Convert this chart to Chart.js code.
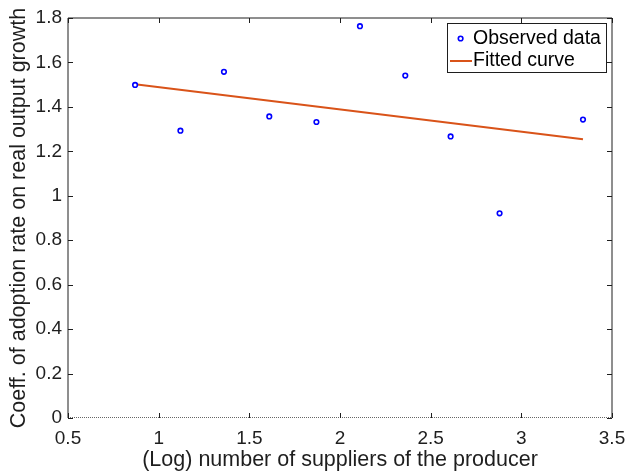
<!DOCTYPE html>
<html>
<head>
<meta charset="utf-8">
<script src="https://cdn.jsdelivr.net/npm/chart.js@4.4.0/dist/chart.umd.min.js"></script>
<style>
  html, body { margin: 0; padding: 0; background: #fff; }
  #wrap { width: 628px; height: 471px; }
</style>
</head>
<body>
<div id="wrap"><canvas id="myChart"></canvas></div>
<script>
// observed points
const supplierLog = [0.87, 1.12, 1.36, 1.61, 1.87, 2.11, 2.36, 2.61, 2.88, 3.34];
const adoptionCoeff = [1.499, 1.293, 1.558, 1.357, 1.332, 1.763, 1.541, 1.267, 0.921, 1.343];
// fitted line ends
const fitX = [0.87, 3.34];
const fitY = [1.502, 1.254];
const xTicks = [0.5, 1, 1.5, 2, 2.5, 3, 3.5];
const yTicks = [0, 0.2, 0.4, 0.6, 0.8, 1, 1.2, 1.4, 1.6, 1.8];

const textColor = '#1e1e1e';
const fontName = "'Liberation Sans', Arial, sans-serif";
const tickSize = 19;
const titleSize = 21.5;
const legendSize = 19.5;

const observed = supplierLog.map((x, i) => ({ x: x, y: adoptionCoeff[i] }));
const fitted = fitX.map((x, i) => ({ x: x, y: fitY[i] }));
const zeroLine = [{ x: xTicks[0], y: 0 }, { x: xTicks[xTicks.length - 1], y: 0 }];

// box round the plot with MATLAB style inward ticks
const boxTicks = {
    id: 'boxTicks',
    afterDatasetsDraw(chart) {
        const ctx = chart.ctx;
        const a = chart.chartArea;
        const xs = chart.scales.x;
        const ys = chart.scales.y;
        const len = 5;
        ctx.save();
        ctx.strokeStyle = textColor;
        ctx.lineWidth = 1;
        ctx.beginPath();
        ctx.moveTo(a.left, a.bottom);
        ctx.lineTo(a.left, a.top);
        ctx.lineTo(a.right, a.top);
        ctx.lineTo(a.right, a.bottom);
        xTicks.forEach(v => {
            const px = Math.round(xs.getPixelForValue(v)) + 0.5;
            ctx.moveTo(px, a.bottom);
            ctx.lineTo(px, a.bottom - len);
            ctx.moveTo(px, a.top);
            ctx.lineTo(px, a.top + len);
        });
        yTicks.forEach(v => {
            const py = Math.round(ys.getPixelForValue(v)) + 0.5;
            ctx.moveTo(a.left, py);
            ctx.lineTo(a.left + len, py);
            ctx.moveTo(a.right, py);
            ctx.lineTo(a.right - len, py);
        });
        ctx.stroke();
        ctx.restore();
    }
};

// legend box in the top right corner
const boxLegend = {
    id: 'boxLegend',
    afterDraw(chart) {
        const ctx = chart.ctx;
        const a = chart.chartArea;
        const w = 159, h = 49;
        const left = a.right - 165;
        const top = a.top + 5;
        ctx.save();
        ctx.fillStyle = '#fff';
        ctx.fillRect(left, top, w, h);
        ctx.strokeStyle = textColor;
        ctx.lineWidth = 1;
        ctx.strokeRect(left + 0.5, top + 0.5, w, h);
        ctx.font = legendSize + 'px ' + fontName;
        ctx.fillStyle = '#000';
        ctx.textBaseline = 'middle';
        ctx.textAlign = 'left';
        const row1 = top + 15.5, row2 = top + 38;
        ctx.strokeStyle = '#0000ff';
        ctx.lineWidth = 1.6;
        ctx.beginPath();
        ctx.arc(left + 13.6, row1, 2.3, 0, Math.PI * 2);
        ctx.stroke();
        ctx.strokeStyle = '#D95319';
        ctx.lineWidth = 2;
        ctx.beginPath();
        ctx.moveTo(left + 3, row2);
        ctx.lineTo(left + 25, row2);
        ctx.stroke();
        ctx.fillText('Observed data', left + 26, row1);
        ctx.fillText('Fitted curve', left + 26, row2);
        ctx.restore();
    }
};

new Chart(document.getElementById('myChart'), {
    type: 'scatter',
    data: {
        datasets: [
            {
                label: 'Observed data',
                data: observed,
                pointStyle: 'circle',
                pointRadius: 2.3,
                pointBorderWidth: 1.6,
                borderColor: '#0000ff',
                backgroundColor: '#ffffff',
                order: 1
            },
            {
                label: 'Fitted curve',
                data: fitted,
                showLine: true,
                pointRadius: 0,
                borderColor: '#D95319',
                borderWidth: 2,
                order: 2
            },
            {
                label: 'zero',
                data: zeroLine,
                showLine: true,
                pointRadius: 0,
                borderColor: '#000000',
                borderWidth: 1.2,
                borderDash: [1, 1],
                order: 3
            }
        ]
    },
    options: {
        responsive: true,
        maintainAspectRatio: false,
        animation: false,
        devicePixelRatio: 1,
        layout: { padding: { top: 18, right: 16, left: 0, bottom: 0 } },
        plugins: {
            legend: { display: false },
            tooltip: { enabled: false }
        },
        scales: {
            x: {
                type: 'linear',
                min: 0.5,
                max: 3.5,
                afterBuildTicks: (s) => { s.ticks = xTicks.map(v => ({ value: v })); },
                afterFit: (s) => { s.height = 53; s.paddingLeft = 0; s.paddingRight = 0; },
                grid: { display: false, drawTicks: false },
                border: { display: false },
                ticks: {
                    color: textColor,
                    padding: 9,
                    font: { family: fontName, size: tickSize },
                    callback: (v) => String(Number(v.toFixed(1)))
                },
                title: {
                    display: true,
                    text: '(Log) number of suppliers of the producer',
                    color: textColor,
                    font: { family: fontName, size: titleSize },
                    padding: { top: 0, bottom: -2 }
                }
            },
            y: {
                type: 'linear',
                min: 0,
                max: 1.8,
                afterBuildTicks: (s) => { s.ticks = yTicks.map(v => ({ value: v })); },
                afterFit: (s) => { s.width = 68; s.paddingTop = 0; s.paddingBottom = 0; },
                grid: { display: false, drawTicks: false },
                border: { display: false },
                ticks: {
                    color: textColor,
                    padding: 6,
                    font: { family: fontName, size: tickSize },
                    callback: (v) => String(Number(v.toFixed(1)))
                },
                title: {
                    display: true,
                    text: 'Coeff. of adoption rate on real output growth',
                    color: textColor,
                    font: { family: fontName, size: titleSize },
                    padding: { top: 6, bottom: 0 }
                }
            }
        }
    },
    plugins: [boxTicks, boxLegend]
});
</script>
</body>
</html>
